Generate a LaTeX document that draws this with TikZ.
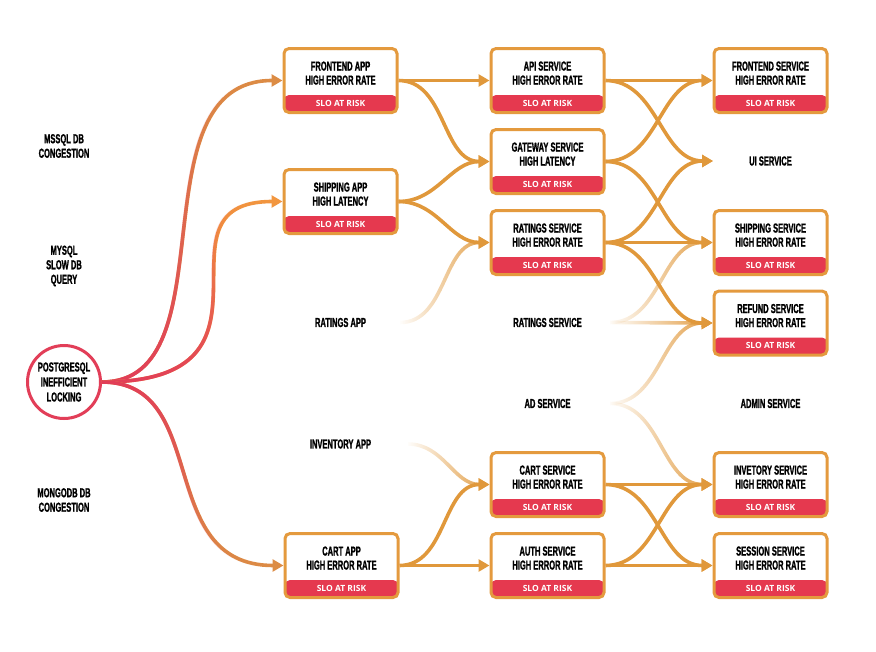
\documentclass[tikz,border=0pt]{standalone}
\usepackage{fontspec}
\setmainfont{Liberation Sans}
\newfontfamily\headfont{Liberation Sans}[FakeStretch=0.58,FakeBold=1.2]
\newfontfamily\tagfont{Open Sans}
\usetikzlibrary{arrows.meta,fadings}

\definecolor{linkorange}{HTML}{E0983B}
\definecolor{boxorange}{HTML}{E49A3E}
\definecolor{slored}{HTML}{E5394F}
\definecolor{rootred}{HTML}{E23E58}
\definecolor{rootorange}{HTML}{DC8C45}
\definecolor{shiporange}{HTML}{F2963F}

\tikzset{
  plaintext/.style={align=center, inner sep=0pt, font=\headfont\bfseries\fontsize{13}{14.5}\selectfont},
  slotag/.style={text=white, inner sep=0pt, yshift=-22.5pt, font=\tagfont\bfseries\fontsize{8.5}{10}\selectfont},
  alertbox/.style={draw=boxorange, line width=3pt, rounded corners=5pt, fill=white,
    minimum width=113pt, minimum height=64pt, inner sep=0pt, align=center,
    font=\headfont\bfseries\fontsize{13}{14}\selectfont,
    execute at end node={\rule[-15pt]{0pt}{15pt}},
    path picture={\fill[slored] (path picture bounding box.south west) rectangle ([yshift=17.5pt]path picture bounding box.south east);},
    label={[slotag]center:SLO AT RISK}},
  rootcause/.style={circle, draw=rootred, line width=3pt, fill=white, minimum size=73pt, inner sep=0pt,
    align=center, font=\headfont\bfseries\fontsize{13}{15}\selectfont},
  depline/.style={draw=linkorange, line width=3.6pt, -{Triangle[length=11pt,width=12pt]}},
  fadeline/.style={depline, path fading=west},
  rootline/.style={draw=rootorange, line width=3.6pt, -{Triangle[length=11pt,width=12pt]}},
  rootfade/.style={draw=rootred, line width=3.6pt, shorten >=12pt},
}

\begin{document}
\begin{tikzpicture}[x=1pt,y=-1pt]
\useasboundingbox (0,0) rectangle (876,651);

\node[plaintext] (mssql) at (64,146) {MSSQL DB\\CONGESTION};
\node[plaintext] (mysql) at (64,266) {MYSQL\\SLOW DB\\QUERY};
\node[rootcause] (pg) at (64,382) {POSTGRESQL\\INEFFICIENT\\LOCKING};
\node[plaintext] (mongo) at (64,500) {MONGODB DB\\CONGESTION};

\node[alertbox] (frontapp) at (340.5,80.5) {FRONTEND APP\\HIGH ERROR RATE};
\node[alertbox] (shipapp) at (340.5,201.5) {SHIPPING APP\\HIGH LATENCY};
\node[plaintext] (ratingsapp) at (340.5,322.5) {RATINGS APP};
\node[plaintext] (invapp) at (340.5,444) {INVENTORY APP};
\node[alertbox] (cartapp) at (341.5,565.5) {CART APP\\HIGH ERROR RATE};

\node[alertbox] (api) at (547.5,80.5) {API SERVICE\\HIGH ERROR RATE};
\node[alertbox] (gateway) at (547.5,161.5) {GATEWAY SERVICE\\HIGH LATENCY};
\node[alertbox] (ratingssvc) at (547.5,242.5) {RATINGS SERVICE\\HIGH ERROR RATE};
\node[plaintext] (ratings) at (547.5,322.5) {RATINGS SERVICE};
\node[plaintext] (ad) at (547.5,403.5) {AD SERVICE};
\node[alertbox] (cartsvc) at (547.5,484.5) {CART SERVICE\\HIGH ERROR RATE};
\node[alertbox] (auth) at (547.5,565.5) {AUTH SERVICE\\HIGH ERROR RATE};

\node[alertbox] (frontsvc) at (770.5,80.5) {FRONTEND SERVICE\\HIGH ERROR RATE};
\node[plaintext] (ui) at (770.5,161) {UI SERVICE};
\node[alertbox] (shipsvc) at (770.5,242.5) {SHIPPING SERVICE\\HIGH ERROR RATE};
\node[alertbox] (refund) at (770.5,323) {REFUND SERVICE\\HIGH ERROR RATE};
\node[plaintext] (admin) at (770.5,403.5) {ADMIN SERVICE};
\node[alertbox] (invsvc) at (770.5,484.5) {INVETORY SERVICE\\HIGH ERROR RATE};
\node[alertbox] (session) at (770.5,565.5) {SESSION SERVICE\\HIGH ERROR RATE};

\coordinate (uiport) at (713,161);
\coordinate (ratingsappport) at (400,322.5);
\coordinate (invappport) at (408,444);
\coordinate (ratingsport) at (610,322.5);
\coordinate (adport) at (610,403.5);

\path[draw,rootline] (pg.east) .. controls +(130,0) and +(-150,0) .. (frontapp.west);
\path[draw,rootfade,path fading=north] (pg.east) .. controls +(130,0) and +(-150,0) .. (frontapp.west);
\path[draw,rootline,draw=shiporange] (pg.east) .. controls +(200,0) and +(-140,0) .. (shipapp.west);
\path[draw,rootfade,path fading=north] (pg.east) .. controls +(200,0) and +(-140,0) .. (shipapp.west);
\path[draw,rootline] (pg.east) .. controls +(110,0) and +(-130,0) .. (cartapp.west);
\path[draw,rootfade,path fading=south] (pg.east) .. controls +(110,0) and +(-130,0) .. (cartapp.west);

\path[draw,depline] (frontapp.east) -- (api.west);
\path[draw,depline] (frontapp.east) to[out=0,in=180] (gateway.west);
\path[draw,depline] (shipapp.east) to[out=0,in=180] (gateway.west);
\path[draw,depline] (shipapp.east) to[out=0,in=180] (ratingssvc.west);
\path[draw,fadeline] (ratingsappport) to[out=0,in=180] (ratingssvc.west);
\path[draw,fadeline] (invappport) to[out=0,in=180] (cartsvc.west);
\path[draw,depline] (cartapp.east) to[out=0,in=180] (cartsvc.west);
\path[draw,depline] (cartapp.east) -- (auth.west);

\path[draw,depline] (api.east) -- (frontsvc.west);
\path[draw,depline] (api.east) to[out=0,in=180] (uiport);
\path[draw,depline] (gateway.east) to[out=0,in=180] (frontsvc.west);
\path[draw,depline] (gateway.east) to[out=0,in=180] (shipsvc.west);
\path[draw,depline] (ratingssvc.east) to[out=0,in=180] (uiport);
\path[draw,depline] (ratingssvc.east) -- (shipsvc.west);
\path[draw,depline] (ratingssvc.east) to[out=0,in=180] (refund.west);
\path[draw,fadeline] (ratingsport) to[out=0,in=180] (shipsvc.west);
\path[draw,fadeline] (ratingsport) -- (refund.west);
\path[draw,fadeline] (adport) to[out=0,in=180] (refund.west);
\path[draw,fadeline] (adport) to[out=0,in=180] (invsvc.west);
\path[draw,depline] (cartsvc.east) -- (invsvc.west);
\path[draw,depline] (cartsvc.east) to[out=0,in=180] (session.west);
\path[draw,depline] (auth.east) to[out=0,in=180] (invsvc.west);
\path[draw,depline] (auth.east) -- (session.west);
\end{tikzpicture}
\end{document}
